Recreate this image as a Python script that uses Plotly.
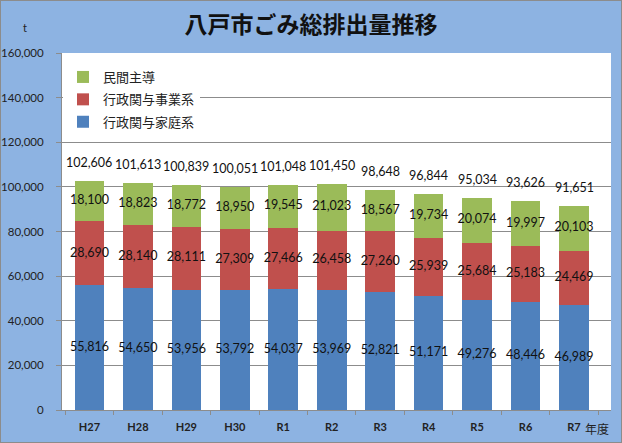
import numpy as np
import plotly.graph_objects as go

# Data (t)
years = ["H27", "H28", "H29", "H30", "R1", "R2", "R3", "R4", "R5", "R6", "R7"]
household = [55816, 54650, 53956, 53792, 54037, 53969, 52821, 51171, 49276, 48446, 46989]
business = [28690, 28140, 28111, 27309, 27466, 26458, 27260, 25939, 25684, 25183, 24469]
private = [18100, 18823, 18772, 18950, 19545, 21023, 18567, 19734, 20074, 19997, 20103]
totals = [102606, 101613, 100839, 100051, 101048, 101450, 98648, 96844, 95034, 93626, 91651]

series_names = ["行政関与家庭系", "行政関与事業系", "民間主導"]
series_colors = ["#4F81BD", "#C0504D", "#9BBB59"]

NUM_FONT = "Lato, Noto Sans CJK JP, sans-serif"
JP_FONT = "Noto Sans CJK JP, sans-serif"

W, H = 622, 443
ml, mr, mt, mb = 62, 11, 53, 33
pw, ph = W - ml - mr, H - mt - mb

fig = go.Figure()

stack = np.array([household, business, private])
base = np.zeros(len(years))
for i, (name, color, vals) in enumerate(zip(series_names, series_colors, stack)):
    fig.add_trace(go.Bar(
        x=years, y=vals, name=name, legendgroup=name, legendrank=10 - i,
        marker=dict(color=color, line=dict(width=0)),
    ))
    # segment value labels at segment centres
    fig.add_trace(go.Scatter(
        x=years, y=base + vals / 2, mode="text",
        text=[f"{v:,}" for v in vals],
        textfont=dict(family=NUM_FONT, size=12.5, color="#111111"),
        showlegend=False, hoverinfo="skip",
    ))
    base = base + vals

# totals above each bar
for yr, tot in zip(years, totals):
    fig.add_annotation(
        x=yr, y=tot, text=f"{tot:,}", showarrow=False,
        yanchor="bottom", yshift=9,
        font=dict(family=NUM_FONT, size=12.5, color="#111111"),
    )

# unit label and x-axis suffix
fig.add_annotation(x=(25 - ml) / pw, y=(H - 27 - mb) / ph, xref="paper", yref="paper",
                   text="t", showarrow=False, xanchor="center", yanchor="middle",
                   font=dict(family=NUM_FONT, size=11, color="#222222"))
fig.add_annotation(x=years[-1], y=0, xref="x", yref="paper", text="年度",
                   xanchor="left", yanchor="middle", xshift=9, yshift=-18,
                   showarrow=False, font=dict(family=JP_FONT, size=12, color="#222222"))

# outer frame
fig.add_shape(type="rect", xref="paper", yref="paper",
              x0=-ml / pw, x1=1 + mr / pw, y0=-mb / ph, y1=1 + mt / ph,
              line=dict(color="#8C8C8C", width=2))

fig.update_layout(
    width=W, height=H,
    margin=dict(l=ml, r=mr, t=mt, b=mb, autoexpand=False),
    barmode="stack", bargap=0.39,
    paper_bgcolor="#8DB3E2", plot_bgcolor="white",
    title=dict(text="<b>八戸市ごみ総排出量推移</b>", x=0.5, xref="container",
               y=1 - 25 / H, yanchor="middle",
               font=dict(family=JP_FONT, size=23, color="#111111")),
    legend=dict(
        x=1 / pw, y=(H - mb - 62) / ph, xanchor="left", yanchor="top",
        bgcolor="white", traceorder="grouped", tracegroupgap=2.5,
        font=dict(family=JP_FONT, size=13, color="#222222"),
        itemwidth=30,
    ),
    showlegend=True,
    xaxis=dict(
        type="category", tickson="boundaries", ticks="outside", ticklen=4,
        tickcolor="#8C8C8C", showline=True, linecolor="#8C8C8C", linewidth=1,
        showgrid=False, ticklabelstandoff=7, automargin=False,
        tickfont=dict(family=NUM_FONT, size=11, color="#222222", weight="bold"),
    ),
    yaxis=dict(
        range=[0, 160000], dtick=20000, tickformat=",", ticks="outside",
        ticklen=5, tickcolor="#8C8C8C", showline=True, linecolor="#8C8C8C",
        gridcolor="#8C8C8C", gridwidth=1, zeroline=False, ticklabelstandoff=10,
        automargin=False,
        tickfont=dict(family=NUM_FONT, size=11.5, color="#222222"),
    ),
)

fig.write_html("out.html", config={"displayModeBar": False},
               post_script="document.body.style.margin='0';")
